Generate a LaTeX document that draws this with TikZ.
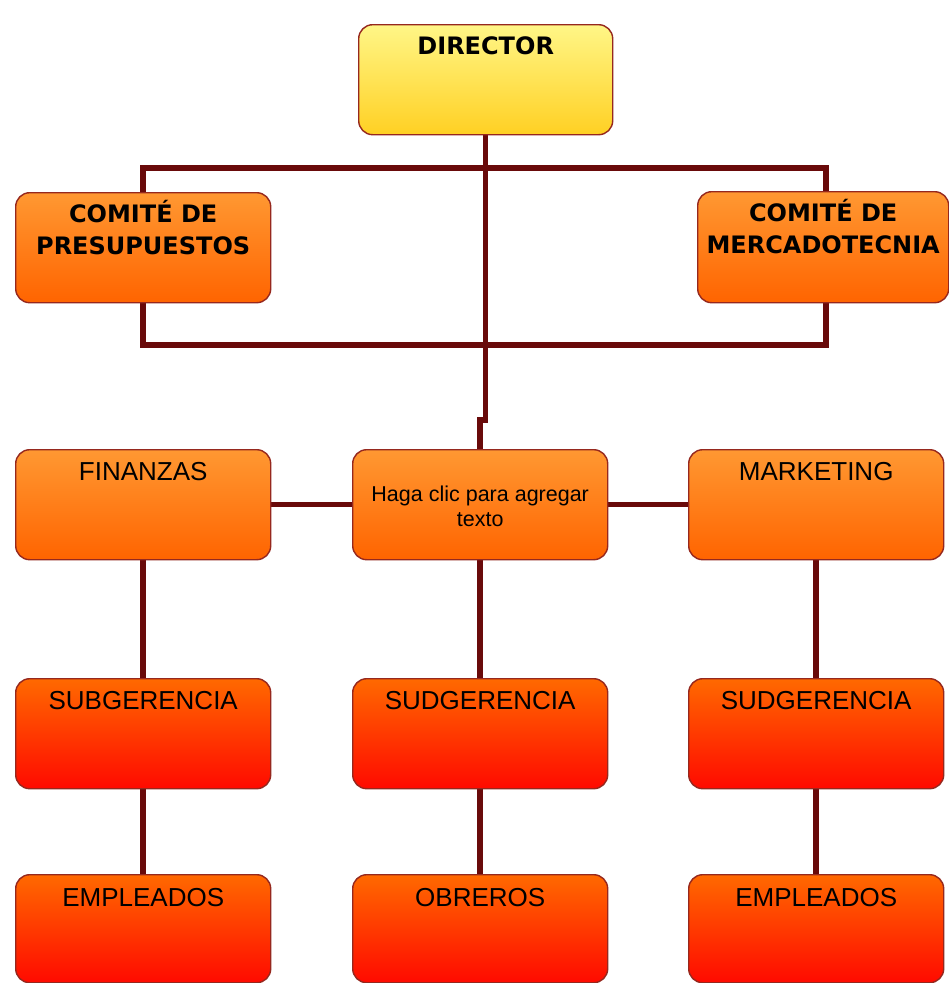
\documentclass[tikz,border=0pt]{standalone}
\usepackage{fontspec}
\setmainfont{Liberation Sans}
\newfontfamily\headfont{DejaVu Sans}
\usetikzlibrary{backgrounds}

\definecolor{linea}{RGB}{105,10,10}
\definecolor{borde}{RGB}{150,40,30}
\definecolor{amarilloA}{RGB}{255,246,135}
\definecolor{amarilloB}{RGB}{255,208,35}
\definecolor{naranjaA}{RGB}{255,152,50}
\definecolor{naranjaB}{RGB}{255,100,0}
\definecolor{rojoA}{RGB}{255,105,0}
\definecolor{rojoB}{RGB}{255,10,0}

% width, height, baseline offset of first line, text
\newcommand{\cajatexto}[4]{\parbox[c][#2pt][t]{#1pt}{\centering\rule{0pt}{#3pt}#4}}

\tikzset{
  caja/.style={draw=borde, line width=1.4pt, rounded corners=14pt, inner sep=0pt, anchor=north west},
  titulo/.style={font=\headfont\bfseries\fontsize{24}{32}\selectfont},
  normal/.style={font=\fontsize{26}{30}\selectfont},
  amarilla/.style={caja, top color=amarilloA, bottom color=amarilloB},
  naranja/.style={caja, top color=naranjaA, bottom color=naranjaB},
  roja/.style={caja, top color=rojoA, bottom color=rojoB},
  conector/.style={draw=linea, line width=5.5pt, line join=miter}
}

\begin{document}
\begin{tikzpicture}[x=1pt, y=-1pt]
  \useasboundingbox (0,0) rectangle (949,983);

  % top level
  \node[amarilla, titulo] (dir) at (358,24) {\cajatexto{254}{110}{30}{DIRECTOR}};

  % committees
  \node[naranja, titulo] (pres) at (15,192) {\cajatexto{255}{110}{30}{COMITÉ DE\\PRESUPUESTOS}};
  \node[naranja, titulo] (merc) at (697,191) {\cajatexto{251}{111}{30}{COMITÉ DE\\MERCADOTECNIA}};

  % second row
  \node[naranja, normal] (fin) at (15,449) {\cajatexto{255}{110}{31}{FINANZAS}};
  \node[naranja, font=\fontsize{21.5}{25}\selectfont] (haga) at (352,449) {\cajatexto{255}{110}{52}{Haga clic para agregar\\texto}};
  \node[naranja, normal] (mkt) at (688,449) {\cajatexto{255}{110}{31}{MARKETING}};

  % third row
  \node[roja, normal] (sub1) at (15,678) {\cajatexto{255}{110}{31}{SUBGERENCIA}};
  \node[roja, normal] (sub2) at (352,678) {\cajatexto{255}{110}{31}{SUDGERENCIA}};
  \node[roja, normal] (sub3) at (688,678) {\cajatexto{255}{110}{31}{SUDGERENCIA}};

  % bottom row
  \node[roja, normal] (emp1) at (15,874) {\cajatexto{255}{108}{32}{EMPLEADOS}};
  \node[roja, normal] (obr) at (352,874) {\cajatexto{255}{108}{32}{OBREROS}};
  \node[roja, normal] (emp3) at (688,874) {\cajatexto{255}{108}{32}{EMPLEADOS}};

  % connector bends
  \coordinate (barraSup) at (485,168);
  \coordinate (barraInf) at (485,345);
  \coordinate (quiebre) at (485,420);

  \begin{scope}[on background layer]
    \fill[white] (0,0) rectangle (949,983);

    \draw[conector] (dir.south) -- (dir.south |- quiebre) -| (haga.north);
    \draw[conector] (pres.north) |- (barraSup) -| ([xshift=3pt]merc.north);
    \draw[conector] (pres.south) |- (barraInf) -| ([xshift=3pt]merc.south);

    \draw[conector] (fin.east) -- (haga.west);
    \draw[conector] (haga.east) -- (mkt.west);

    \draw[conector] (fin.south) -- (sub1.north);
    \draw[conector] (haga.south) -- (sub2.north);
    \draw[conector] (mkt.south) -- (sub3.north);

    \draw[conector] (sub1.south) -- (emp1.north);
    \draw[conector] (sub2.south) -- (obr.north);
    \draw[conector] (sub3.south) -- (emp3.north);
  \end{scope}
\end{tikzpicture}
\end{document}
